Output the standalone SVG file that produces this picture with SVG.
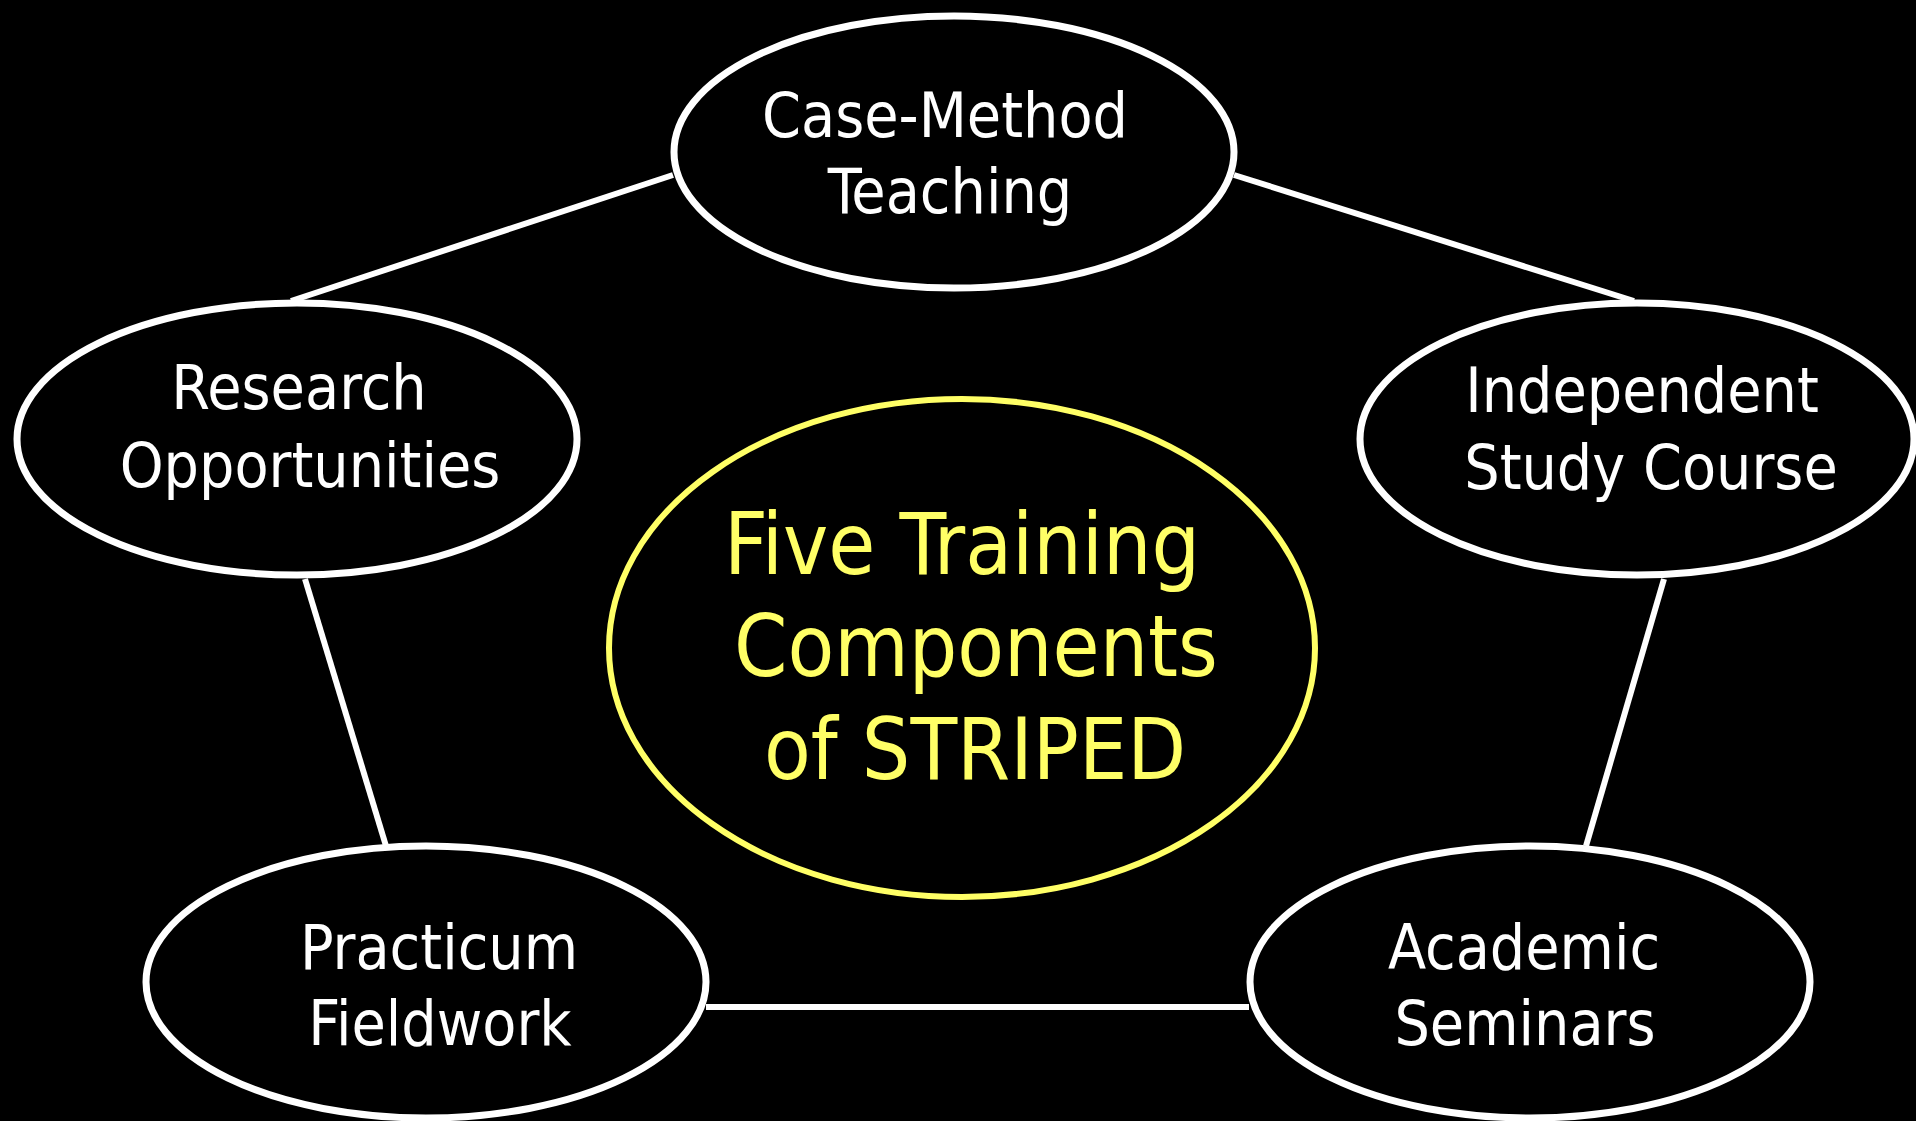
<svg xmlns="http://www.w3.org/2000/svg" width="1916" height="1121" viewBox="0 0 1916 1121">
  <style>
    .node { fill: #000000; stroke: #FFFFFF; stroke-width: 7; }
    .hub { fill: #000000; stroke: #FFFF66; stroke-width: 6; }
    .label { font-family: 'DejaVu Sans Condensed', 'DejaVu Sans', sans-serif; font-stretch: condensed; font-size: 62px; fill: #FFFFFF; text-anchor: middle; }
    .title { font-family: 'DejaVu Sans Condensed', 'DejaVu Sans', sans-serif; font-stretch: condensed; font-size: 85px; fill: #FFFF66; text-anchor: middle; }
    .link { stroke: #FFFFFF; stroke-width: 6; fill: none; }
  </style>
  <rect x="0" y="0" width="1916" height="1121" fill="#000000"/>

  <!-- ring of connectors between the five components -->
  <g id="connectors">
    <line class="link" x1="673" y1="175" x2="291" y2="301"/>
    <line class="link" x1="1234" y1="175" x2="1634" y2="301"/>
    <line class="link" x1="305" y1="579" x2="386" y2="846"/>
    <line class="link" x1="1664" y1="579" x2="1586" y2="846"/>
    <line class="link" x1="706" y1="1007" x2="1249" y2="1007"/>
  </g>

  <g id="case-method">
    <ellipse class="node" cx="954" cy="152" rx="280" ry="136"/>
    <text class="label" x="945" y="137">Case-Method</text>
    <text class="label" x="950" y="213">Teaching</text>
  </g>

  <g id="research">
    <ellipse class="node" cx="297" cy="439" rx="280" ry="136"/>
    <text class="label" x="299" y="409">Research</text>
    <text class="label" x="310" y="487">Opportunities</text>
  </g>

  <g id="independent-study">
    <ellipse class="node" cx="1637" cy="439" rx="277" ry="136"/>
    <text class="label" x="1642" y="412">Independent</text>
    <text class="label" x="1651" y="489">Study Course</text>
  </g>

  <g id="practicum">
    <ellipse class="node" cx="426" cy="982" rx="280" ry="136"/>
    <text class="label" x="439" y="969">Practicum</text>
    <text class="label" x="440" y="1045">Fieldwork</text>
  </g>

  <g id="seminars">
    <ellipse class="node" cx="1530" cy="982" rx="280" ry="136"/>
    <text class="label" x="1524" y="969">Academic</text>
    <text class="label" x="1525" y="1045">Seminars</text>
  </g>

  <g id="hub">
    <ellipse class="hub" cx="962" cy="648" rx="353" ry="249"/>
    <text class="title" x="962" y="574">Five Training</text>
    <text class="title" x="976" y="676">Components</text>
    <text class="title" x="975" y="779">of STRIPED</text>
  </g>
</svg>
